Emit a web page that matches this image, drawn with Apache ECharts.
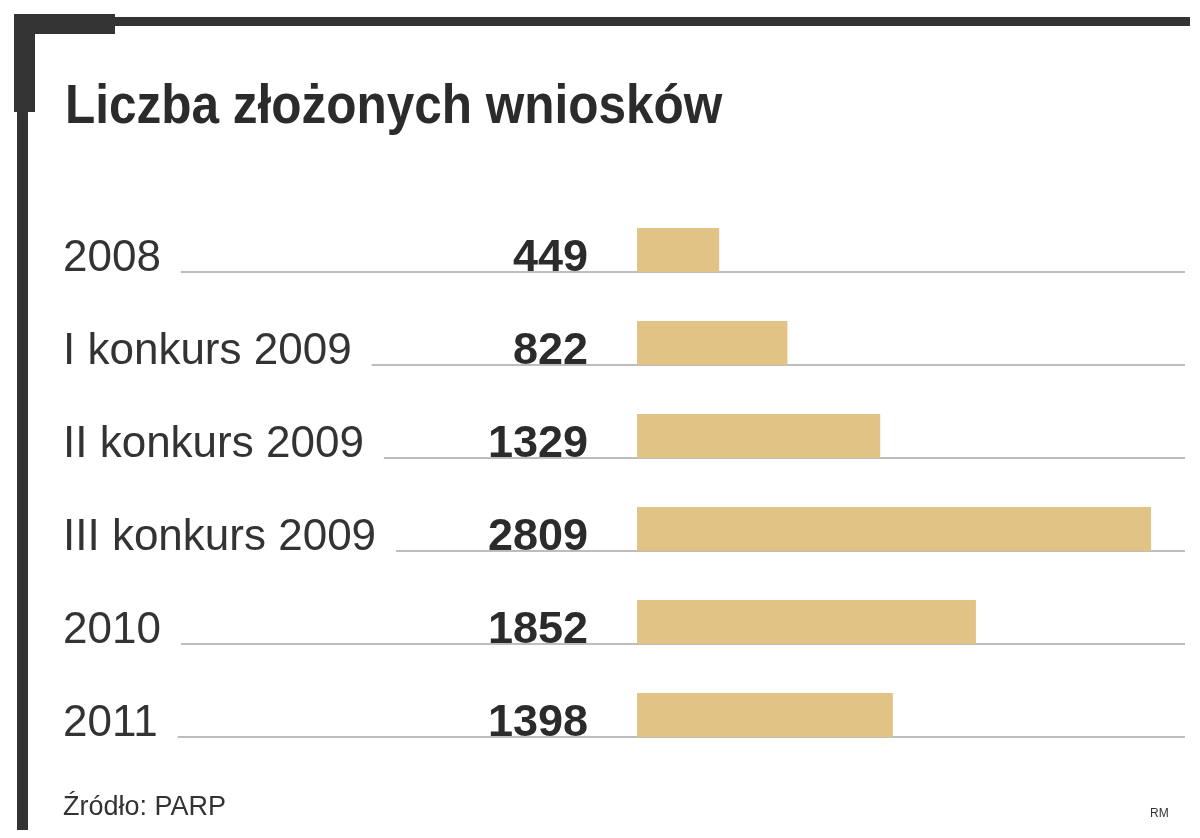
<!DOCTYPE html>
<html><head><meta charset="utf-8">
<script src="https://cdn.jsdelivr.net/npm/echarts@6/dist/echarts.min.js"></script>
<style>html,body{margin:0;padding:0;background:#fff}#c{width:1200px;height:838px}</style>
</head><body><div id="c"></div>
<script>
const categories = ['2008','I konkurs 2009','II konkurs 2009','III konkurs 2009','2010','2011'];
const values = [449, 822, 1329, 2809, 1852, 1398];
const title = 'Liczba złożonych wniosków';
const source = 'Źródło: PARP';

const chart = echarts.init(document.getElementById('c'));
const ctx = document.createElement('canvas').getContext('2d');
const catFont = '44px "Liberation Sans", Arial, sans-serif';
const valFont = 'bold 45px "Liberation Sans", Arial, sans-serif';
ctx.font = catFont;

chart.setOption({
  animation: false,
  grid: {left: 637, right: 14, top: 203.5, bottom: 76.5},
  xAxis: {type: 'value', min: 0, max: 3000, show: false},
  yAxis: {type: 'category', data: categories, inverse: true, show: false},
  graphic: [
    {type: 'rect', shape: {x: 14, y: 14, width: 21, height: 98}, style: {fill: '#333'}},
    {type: 'rect', shape: {x: 14, y: 14, width: 101, height: 20}, style: {fill: '#333'}},
    {type: 'rect', shape: {x: 17, y: 100, width: 11, height: 730}, style: {fill: '#333'}},
    {type: 'rect', shape: {x: 100, y: 17, width: 1090, height: 9}, style: {fill: '#333'}},
    {type: 'text', x: 65, y: 135, scaleX: 0.9, style: {text: title, font: 'bold 55px "Liberation Sans", Arial, sans-serif', fill: '#2b2b2b', textVerticalAlign: 'bottom'}},
    {type: 'text', x: 63, y: 808, style: {text: source, font: '27px "Liberation Sans", Arial, sans-serif', fill: '#333', textVerticalAlign: 'middle'}},
    {type: 'text', x: 1150, y: 814, style: {text: 'RM', font: '12px "Liberation Sans", Arial, sans-serif', fill: '#333', textVerticalAlign: 'middle'}}
  ],
  series: [
    {type: 'custom', data: values.map((v, i) => [v, i]), z: 1,
     renderItem: function (params, api) {
       const i = api.value(1);
       const c = api.coord([0, i]);
       const cy = c[1];
       const w = ctx.measureText(categories[i]).width;
       return {type: 'group', children: [
         {type: 'line', shape: {x1: 63 + w + 20, y1: cy + 22, x2: 1185, y2: cy + 22}, style: {stroke: '#bdbdbd', lineWidth: 2}},
         {type: 'text', x: 63, y: cy + 9, style: {text: categories[i], font: catFont, fill: '#333', textVerticalAlign: 'middle'}},
         {type: 'text', x: 588, y: cy + 9, style: {text: String(api.value(0)), font: valFont, fill: '#2b2b2b', textAlign: 'right', textVerticalAlign: 'middle'}}
       ]};
     }},
    {type: 'bar', data: values, barWidth: 44, itemStyle: {color: '#e0c385'}, z: 2}
  ]
});
</script></body></html>
